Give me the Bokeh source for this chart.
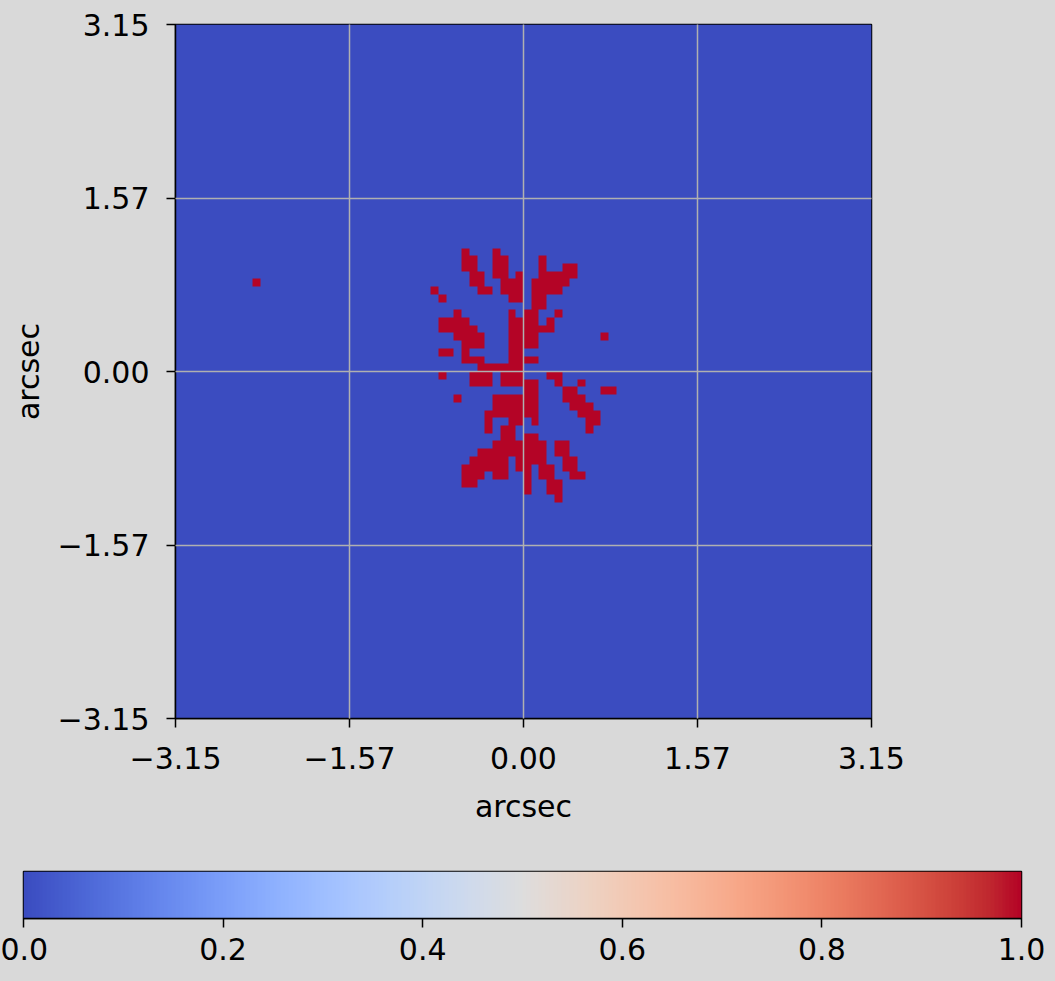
import numpy as np
from bokeh.plotting import figure
from bokeh.models import LinearColorMapper, FixedTicker, Range1d
from bokeh.embed import file_html
from bokeh.resources import INLINE

# ---------------- data ----------------
N_PIX = 90                 # mask is N_PIX x N_PIX
EXTENT = 3.15              # arcsec, half width of the map
# red (value 1) cells of the mask: row index from the top -> column indices
RED_CELLS = {
    29: [37, 41],
    30: [37, 38, 41, 42, 47],
    31: [37, 38, 41, 42, 47, 50, 51],
    32: [38, 39, 41, 42, 44, 47, 48, 49, 50, 51],
    33: [10, 38, 39, 42, 43, 44, 46, 47, 48, 49, 50],
    34: [33, 39, 40, 42, 43, 44, 46, 47, 48, 49],
    35: [34, 43, 44, 46, 47],
    36: [46, 47],
    37: [36, 43, 45, 46, 49],
    38: [34, 35, 36, 37, 43, 44, 45, 46, 48],
    39: [34, 35, 36, 37, 38, 43, 44, 45, 46, 47, 48],
    40: [36, 37, 38, 39, 43, 44, 45, 46, 55],
    41: [37, 38, 39, 43, 44, 45, 46],
    42: [34, 35, 37, 43, 44],
    43: [37, 38, 39, 43, 44, 45, 46],
    44: [39, 40, 41, 42, 43, 44],
    45: [34, 38, 39, 40, 42, 43, 44, 48, 49],
    46: [38, 39, 40, 42, 43, 44, 45, 46, 49, 52],
    47: [45, 46, 50, 51, 55, 56],
    48: [36, 41, 42, 43, 44, 45, 46, 50, 51, 52],
    49: [41, 42, 43, 44, 45, 46, 51, 52, 53],
    50: [40, 41, 42, 43, 44, 45, 46, 52, 53, 54],
    51: [40, 43, 44, 46, 53, 54],
    52: [40, 42, 43, 53],
    53: [42, 43, 45, 46],
    54: [41, 42, 43, 44, 45, 46, 47, 49, 50],
    55: [39, 40, 41, 42, 43, 44, 45, 46, 47, 49, 50],
    56: [38, 39, 40, 41, 42, 44, 45, 46, 47, 50, 51],
    57: [37, 38, 39, 40, 41, 42, 44, 45, 47, 48, 50, 51],
    58: [37, 38, 39, 41, 42, 45, 47, 48, 51, 52],
    59: [37, 38, 45, 48, 49],
    60: [45, 48, 49],
    61: [49],
}

AXIS_TICKS = [-3.15, -1.575, 0.0, 1.575, 3.15]
AXIS_TICK_LABELS = ["\u22123.15", "\u22121.57", "0.00", "1.57", "3.15"]
CBAR_TICKS = [0.0, 0.2, 0.4, 0.6, 0.8, 1.0]
CBAR_TICK_LABELS = ["0.0", "0.2", "0.4", "0.6", "0.8", "1.0"]
X_LABEL = "arcsec"
Y_LABEL = "arcsec"

# coolwarm colormap anchor colours (Moreland)
COOLWARM_ANCHORS = [
    (59, 76, 192), (68, 90, 204), (77, 104, 215), (87, 117, 225), (98, 130, 234),
    (108, 142, 241), (119, 154, 247), (130, 165, 251), (141, 176, 254), (152, 185, 255),
    (163, 194, 255), (174, 201, 253), (184, 208, 249), (194, 213, 244), (204, 217, 238),
    (213, 219, 230), (221, 221, 221), (229, 216, 209), (236, 211, 197), (241, 204, 184),
    (245, 196, 172), (247, 187, 160), (247, 177, 148), (247, 166, 135), (244, 154, 123),
    (241, 141, 111), (236, 127, 99), (229, 112, 88), (222, 96, 77), (213, 80, 66),
    (203, 62, 56), (192, 40, 47), (180, 4, 38),
]

# ---------------- styling helpers ----------------
BG = "#d9d9d9"
FONT = "DejaVu Sans"
FS = "30px"

anchors = np.array(COOLWARM_ANCHORS, dtype=float)
pos = np.linspace(0, 1, len(anchors))
t = np.linspace(0, 1, 256)
palette = []
for v in t:
    rgb = [int(round(np.interp(v, pos, anchors[:, k]))) for k in range(3)]
    palette.append("#%02x%02x%02x" % tuple(rgb))

mapper = LinearColorMapper(palette=palette, low=0.0, high=1.0)

mask = np.zeros((N_PIX, N_PIX))
for r, cols in RED_CELLS.items():
    for c in cols:
        mask[N_PIX - 1 - r, c] = 1.0


def style_axis(ax):
    ax.major_label_text_font = FONT
    ax.major_label_text_font_size = FS
    ax.major_label_text_color = "black"
    ax.axis_line_color = "black"
    ax.axis_line_width = 1.5
    ax.major_tick_line_color = "black"
    ax.major_tick_line_width = 1.5
    ax.major_tick_out = 9
    ax.major_tick_in = 0
    ax.minor_tick_out = 0
    ax.minor_tick_in = 0
    ax.axis_label_text_font = FONT
    ax.axis_label_text_font_size = FS
    ax.axis_label_text_font_style = "normal"
    ax.axis_label_text_color = "black"


# ---------------- main map ----------------
p = figure(frame_width=696, frame_height=694,
           min_border_left=175, min_border_right=184,
           min_border_top=24, min_border_bottom=112,
           x_range=Range1d(-EXTENT, EXTENT), y_range=Range1d(-EXTENT, EXTENT),
           output_backend="svg", toolbar_location=None,
           background_fill_color=BG, border_fill_color=BG)
p.image(image=[mask], x=-EXTENT, y=-EXTENT, dw=2 * EXTENT, dh=2 * EXTENT,
        color_mapper=mapper)

for ax in (p.xaxis[0], p.yaxis[0]):
    style_axis(ax)
    ax.ticker = FixedTicker(ticks=AXIS_TICKS)
    ax.major_label_overrides = {tk: lb for tk, lb in zip(AXIS_TICKS, AXIS_TICK_LABELS)}
p.xaxis.axis_label = X_LABEL
p.yaxis.axis_label = Y_LABEL
p.xaxis.major_label_standoff = 19
p.yaxis.major_label_standoff = 17
p.xaxis.axis_label_standoff = 17
p.yaxis.axis_label_standoff = 9

for g in (p.xgrid[0], p.ygrid[0]):
    g.ticker = FixedTicker(ticks=AXIS_TICKS)
    g.grid_line_color = "#b0b0b0"
    g.grid_line_width = 1.5
    g.level = "annotation"
p.outline_line_color = "black"
p.outline_line_width = 1.5
p.outline_line_alpha = 1.0

# ---------------- colour bar ----------------
cb = figure(frame_width=998, frame_height=47,
            min_border_left=23, min_border_right=34,
            min_border_top=41, min_border_bottom=63,
            x_range=Range1d(0, 1), y_range=Range1d(0, 1),
            y_axis_location=None,
            output_backend="svg", toolbar_location=None,
            background_fill_color=BG, border_fill_color=BG)
grad = np.array([np.linspace(0.0, 1.0, 512)])
cb.image(image=[grad], x=0, y=0, dw=1, dh=1, color_mapper=mapper)
style_axis(cb.xaxis[0])
cb.xaxis.ticker = FixedTicker(ticks=CBAR_TICKS)
cb.xaxis.major_label_overrides = {tk: lb for tk, lb in zip(CBAR_TICKS, CBAR_TICK_LABELS)}
cb.xaxis.major_label_standoff = 10
cb.xgrid.visible = False
cb.ygrid.visible = False
cb.outline_line_color = "black"
cb.outline_line_width = 1.5

html = file_html([p, cb], INLINE)
css = "<style>html, body { margin:0; padding:0; background:%s; } body > div { background:%s; }</style>" % (BG, BG)
html = html.replace("</head>", css + "</head>", 1)
open("out.html", "w").write(html)
